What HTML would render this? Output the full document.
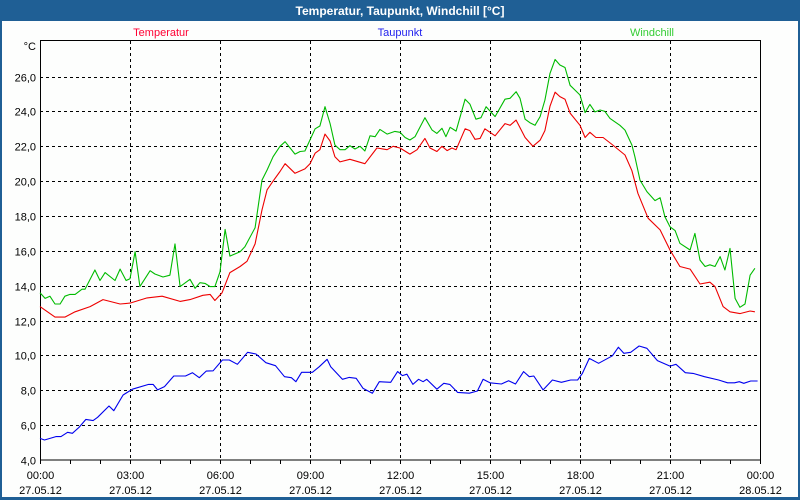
<!DOCTYPE html>
<html><head><meta charset="utf-8">
<style>
html,body{margin:0;padding:0;}
body{width:800px;height:500px;overflow:hidden;background:#1f5f95;font-family:"Liberation Sans",sans-serif;}
svg{display:block}
</style></head>
<body>
<svg id="chart" width="800" height="500" xmlns="http://www.w3.org/2000/svg">
  <rect x="0" y="0" width="800" height="500" fill="#1f5f95"/>
  <rect x="2" y="21" width="796" height="476" fill="#fdfefd"/>
  <text x="400" y="15" text-anchor="middle" font-size="12" font-weight="bold" fill="#ffffff">Temperatur, Taupunkt, Windchill [°C]</text>
  <text x="161" y="36" text-anchor="middle" font-size="11" fill="#ff0033">Temperatur</text>
  <text x="400" y="36" text-anchor="middle" font-size="11" fill="#2222ee">Taupunkt</text>
  <text x="652" y="36" text-anchor="middle" font-size="11" fill="#33cc33">Windchill</text>
  <text x="36" y="50" text-anchor="end" font-size="11" fill="#000">°C</text>
  <g id="grid"></g>
  <g id="axes"></g>
  <g id="series"></g>
</svg>
<script>
const yTicks = [4,6,8,10,12,14,16,18,20,22,24,26];
const xTickHours = [0,3,6,9,12,15,18,21,24];
const xTimeLabels = ["00:00","03:00","06:00","09:00","12:00","15:00","18:00","21:00","00:00"];
const xDateLabels = ["27.05.12","27.05.12","27.05.12","27.05.12","27.05.12","27.05.12","27.05.12","27.05.12","28.05.12"];

const tempHours = [0,0.5,0.83,1.17,1.67,2.1,2.67,3,3.57,4.07,4.67,5,5.43,5.67,5.83,6.07,6.33,6.67,6.9,7.17,7.4,7.57,7.77,8,8.17,8.5,8.83,9,9.17,9.33,9.5,9.67,9.83,10,10.33,10.83,11.23,11.57,11.77,12,12.33,12.57,12.83,13,13.23,13.4,13.57,13.73,13.87,14.17,14.33,14.5,14.67,14.83,15.17,15.5,15.67,15.87,16.17,16.43,16.67,16.83,17,17.17,17.33,17.5,17.67,18,18.17,18.33,18.53,18.77,19.07,19.5,19.73,19.93,20.27,20.67,21,21.33,21.67,22,22.33,22.5,22.77,23,23.33,23.67,23.83];
const tempValues = [12.8,12.2,12.2,12.5,12.8,13.2,12.95,13.0,13.3,13.4,13.1,13.2,13.45,13.5,13.15,13.6,14.75,15.1,15.4,16.4,18.35,19.5,20.0,20.55,21.0,20.45,20.7,21.0,21.6,21.8,22.7,22.3,21.4,21.1,21.25,21.0,21.9,21.8,22.0,21.9,21.55,21.8,22.45,21.9,21.7,22.0,21.75,21.9,21.8,23.0,22.9,22.4,22.45,23.0,22.6,23.3,23.2,23.5,22.5,22.0,22.35,22.9,24.3,25.1,24.85,24.7,23.9,23.2,22.5,22.8,22.5,22.5,22.1,21.5,20.6,19.3,17.87,17.2,16.05,15.1,14.95,14.1,14.2,13.95,12.8,12.5,12.4,12.55,12.5];

const chillHours = [0,0.17,0.33,0.5,0.67,0.83,1,1.17,1.4,1.5,1.83,2,2.17,2.5,2.67,2.87,3,3.17,3.33,3.67,3.83,4.1,4.33,4.5,4.67,5,5.17,5.33,5.5,5.67,5.83,6,6.17,6.33,6.67,6.83,7.17,7.4,7.57,7.77,8,8.17,8.5,8.67,8.83,9.17,9.33,9.5,9.67,9.83,10,10.17,10.33,10.5,10.67,10.83,11,11.17,11.33,11.57,11.83,12,12.17,12.33,12.5,12.83,13.07,13.23,13.4,13.53,13.67,13.87,14.17,14.33,14.53,14.7,14.87,15.17,15.5,15.67,15.87,16,16.17,16.33,16.5,16.67,16.83,17,17.17,17.33,17.5,17.67,17.83,18,18.17,18.33,18.5,18.67,18.83,19,19.33,19.5,19.73,19.83,20,20.23,20.5,20.67,20.83,21,21.17,21.33,21.67,21.83,22,22.17,22.33,22.5,22.67,22.83,23,23.17,23.33,23.5,23.67,23.83];
const chillValues = [13.6,13.27,13.4,12.95,12.95,13.4,13.5,13.5,13.8,13.8,14.9,14.3,14.75,14.3,14.95,14.3,14.4,15.95,13.95,14.86,14.67,14.5,14.6,16.4,13.95,14.37,13.85,14.17,14.13,13.95,13.95,14.8,17.23,15.7,15.95,16.24,17.33,20.06,20.64,21.4,22.0,22.26,21.55,21.7,21.73,23.0,23.16,24.27,23.3,22.07,21.8,21.8,22.03,21.84,22.0,21.73,22.6,22.55,22.97,22.7,22.85,22.8,22.5,22.36,22.55,23.64,22.93,22.74,23.03,22.55,23.09,22.87,24.7,24.42,23.55,23.64,24.27,23.7,24.7,24.75,25.13,24.75,23.55,23.35,23.2,23.7,24.65,26.18,26.98,26.66,26.52,25.5,25.23,24.94,23.93,24.4,23.97,24.08,24.0,23.6,23.2,22.93,22.07,21.4,20.06,19.4,18.88,19.05,17.96,17.38,17.16,16.43,16.05,17.0,15.47,15.1,15.2,15.1,15.67,14.9,16.14,13.27,12.76,12.95,14.6,15.0];

const dewHours = [0,0.15,0.53,0.7,0.92,1.08,1.3,1.53,1.77,1.92,2.3,2.46,2.77,3.08,3.62,3.77,3.92,4.15,4.46,4.85,5.08,5.31,5.54,5.77,6.08,6.31,6.58,6.92,7.2,7.53,7.85,8.15,8.38,8.53,8.72,9.08,9.31,9.57,9.69,10.08,10.31,10.54,10.77,11.08,11.31,11.69,11.92,12.08,12.23,12.43,12.62,12.77,12.89,13.23,13.46,13.66,13.92,14.31,14.58,14.77,15,15.38,15.62,15.85,16.12,16.31,16.46,16.77,17.08,17.38,17.69,17.92,18.08,18.31,18.62,19.08,19.28,19.46,19.69,19.97,20.23,20.58,21,21.2,21.51,21.77,22.15,22.62,22.92,23.15,23.31,23.46,23.69,23.92];
const dewValues = [5.24,5.15,5.34,5.34,5.59,5.53,5.87,6.33,6.26,6.45,7.1,6.83,7.73,8.06,8.34,8.34,8.02,8.21,8.82,8.82,9.01,8.72,9.1,9.12,9.74,9.74,9.49,10.18,10.08,9.58,9.41,8.78,8.72,8.49,9.03,9.03,9.35,9.78,9.35,8.63,8.74,8.69,8.11,7.83,8.49,8.46,9.07,8.84,8.92,8.34,8.63,8.49,8.63,8.06,8.4,8.34,7.88,7.83,7.96,8.63,8.43,8.36,8.55,8.36,9.07,8.78,8.82,8.02,8.59,8.46,8.59,8.59,8.97,9.83,9.55,9.98,10.47,10.12,10.18,10.54,10.41,9.7,9.39,9.49,9.01,8.97,8.78,8.59,8.43,8.43,8.49,8.4,8.53,8.53];

const X0 = 40, X1 = 760, Y0 = 460, YTOP = 41;
const HMAX = 24, VMIN = 4, PXPERUNIT = 17.43;
function xScale(h){ return X0 + (h / HMAX) * (X1 - X0); }
function yScale(v){ return Y0 - (v - VMIN) * PXPERUNIT; }

const NS = "http://www.w3.org/2000/svg";
function mk(tag, attrs, parent){ const e = document.createElementNS(NS, tag); for (const k in attrs) e.setAttribute(k, attrs[k]); parent.appendChild(e); return e; }

const grid = document.getElementById('grid');
const axes = document.getElementById('axes');
const series = document.getElementById('series');

yTicks.forEach(v => {
  const y = Math.round(yScale(v)) + 0.5;
  if (v > VMIN) {
    const l = mk('line', {x1:X0, x2:X1, y1:y, y2:y, stroke:'#000', 'stroke-width':1, 'stroke-dasharray':'3,3'}, grid);
    
    
  }
  const t = mk('text', {x:36, y:y + 4, 'text-anchor':'end', 'font-size':11, fill:'#000'}, axes);
  t.textContent = v.toFixed(1).replace('.', ',');
  
  
});

xTickHours.forEach((h, i) => {
  const x = Math.round(xScale(h)) + 0.5;
  if (h > 0 && h < HMAX) {
    const l = mk('line', {x1:x, x2:x, y1:YTOP, y2:Y0, stroke:'#000', 'stroke-width':1, 'stroke-dasharray':'3,3'}, grid);
    
    
  }
  const t1 = mk('text', {x:x, y:479, 'text-anchor':'middle', 'font-size':11, fill:'#000'}, axes);
  t1.textContent = xTimeLabels[i];
  
  
  const t2 = mk('text', {x:x, y:494, 'text-anchor':'middle', 'font-size':11, fill:'#000'}, axes);
  t2.textContent = xDateLabels[i];
  
  
});

for (let h = 0; h <= HMAX; h += 1) {
  const x = Math.round(xScale(h)) + 0.5;
  const tk = mk('line', {x1:x, x2:x, y1:Y0, y2:Y0 + 4, stroke:'#000', 'stroke-width':1}, axes);
  
  
}

const frame = mk('rect', {x:X0 + 0.5, y:YTOP - 0.5, width:X1 - X0, height:Y0 - YTOP + 0.5, fill:'none', stroke:'#000', 'stroke-width':1}, axes);



function drawLine(hours, values, color, name){
  const pts = hours.map((h, i) => xScale(h).toFixed(1) + ',' + yScale(values[i]).toFixed(1)).join(' ');
  const p = mk('polyline', {points:pts, fill:'none', stroke:color, 'stroke-width':1.1, 'stroke-linejoin':'round'}, series);
  
  
}
drawLine(dewHours, dewValues, '#0000ee', 'taupunkt-line');
drawLine(tempHours, tempValues, '#ee0000', 'temperatur-line');
drawLine(chillHours, chillValues, '#00bb00', 'windchill-line');
</script>
</body></html>
